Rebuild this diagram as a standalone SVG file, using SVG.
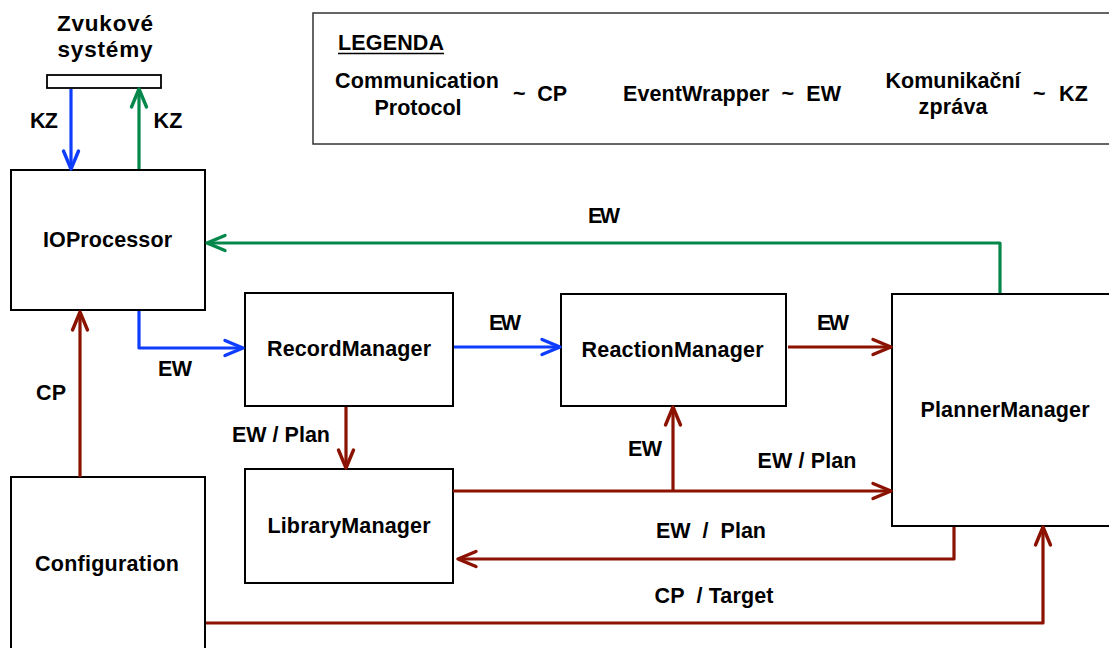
<svg xmlns="http://www.w3.org/2000/svg" width="1109" height="648" viewBox="0 0 1109 648">
<style>
text{font-family:"Liberation Sans",Arial,sans-serif;font-weight:bold;font-size:21.5px;fill:#000}
.m{text-anchor:middle}
.box{fill:#fff;stroke:#000;stroke-width:2}
.c{fill:none;stroke-width:3.2;stroke-linejoin:round}
.b{stroke:#0f3dfd}
.g{stroke:#04874b}
.r{stroke:#8b1200}
</style>
<defs>
<marker id="ab" markerUnits="userSpaceOnUse" markerWidth="24" markerHeight="20" viewBox="-20 -10 24 20" refX="0" refY="0" orient="auto" overflow="visible"><path d="M-18,-7.5 L0,0 L-18,7.5" fill="none" stroke="#0f3dfd" stroke-width="3.4" stroke-linejoin="round" stroke-linecap="round"/></marker>
<marker id="ag" markerUnits="userSpaceOnUse" markerWidth="24" markerHeight="20" viewBox="-20 -10 24 20" refX="0" refY="0" orient="auto" overflow="visible"><path d="M-18,-7.5 L0,0 L-18,7.5" fill="none" stroke="#04874b" stroke-width="3.4" stroke-linejoin="round" stroke-linecap="round"/></marker>
<marker id="ar" markerUnits="userSpaceOnUse" markerWidth="24" markerHeight="20" viewBox="-20 -10 24 20" refX="0" refY="0" orient="auto" overflow="visible"><path d="M-18,-7.5 L0,0 L-18,7.5" fill="none" stroke="#8b1200" stroke-width="3.4" stroke-linejoin="round" stroke-linecap="round"/></marker>
</defs>
<rect width="1109" height="648" fill="#fff"/>

<g id="legend">
<rect x="313" y="13" width="810" height="131" fill="#fff" stroke="#333" stroke-width="1.5"/>
<text x="338" y="50" textLength="106">LEGENDA</text>
<line x1="338" y1="53.5" x2="444" y2="53.5" stroke="#000" stroke-width="1.6"/>
<text class="m" x="417" y="88" textLength="164">Communication</text>
<text class="m" x="418" y="115" textLength="87">Protocol</text>
<text x="513" y="101" textLength="54" xml:space="preserve">~  CP</text>
<text x="623" y="101" textLength="218" xml:space="preserve">EventWrapper  ~  EW</text>
<text class="m" x="953" y="88" textLength="135">Komunikační</text>
<text class="m" x="953" y="114" textLength="69">zpráva</text>
<text x="1033" y="101" textLength="55" xml:space="preserve">~  KZ</text>
</g>

<g id="zvukove">
<rect x="47" y="75" width="114" height="13" fill="#fff" stroke="#000" stroke-width="1.8"/>
<text class="m" x="105" y="31" textLength="96" style="font-size:22.5px">Zvukové</text>
<text class="m" x="105" y="57" textLength="95" style="font-size:22.5px">systémy</text>
</g>

<g id="ioprocessor"><rect class="box" x="11" y="170" width="194" height="140"/><text class="m" x="107.5" y="247" textLength="129">IOProcessor</text></g>
<g id="recordmanager"><rect class="box" x="245" y="293" width="208" height="113"/><text class="m" x="349" y="356" textLength="164">RecordManager</text></g>
<g id="reactionmanager"><rect class="box" x="561" y="294" width="225" height="112"/><text class="m" x="672.5" y="357" textLength="182">ReactionManager</text></g>
<g id="plannermanager"><rect class="box" x="892" y="294" width="230" height="232"/><text class="m" x="1005" y="417" textLength="169">PlannerManager</text></g>
<g id="librarymanager"><rect class="box" x="245" y="469" width="208" height="114"/><text class="m" x="349" y="533" textLength="163">LibraryManager</text></g>
<g id="configuration"><rect class="box" x="11" y="477" width="194" height="180"/><text class="m" x="107" y="571" textLength="144">Configuration</text></g>

<g id="connectors">
<path class="c b" d="M71,89 V169" marker-end="url(#ab)"/>
<path class="c g" d="M139,169 V89" marker-end="url(#ag)"/>
<path class="c g" d="M1000,293 V243 H207" marker-end="url(#ag)"/>
<path class="c r" d="M80,477 V312" marker-end="url(#ar)"/>
<path class="c b" d="M139,311 V348 H243" marker-end="url(#ab)"/>
<path class="c b" d="M454,347 H560" marker-end="url(#ab)"/>
<path class="c r" d="M788,347 H891" marker-end="url(#ar)"/>
<path class="c r" d="M346,407 V468" marker-end="url(#ar)"/>
<path class="c r" d="M453,491 H891" marker-end="url(#ar)"/>
<path class="c r" d="M673,491 V407" marker-end="url(#ar)"/>
<path class="c r" d="M954,527 V559 H458" marker-end="url(#ar)"/>
<path class="c r" d="M206,623 H1043 V527" marker-end="url(#ar)"/>

<text class="m" x="44" y="128" textLength="28">KZ</text>
<text class="m" x="168" y="128" textLength="29">KZ</text>
<text class="m" x="604" y="223" textLength="32">EW</text>
<text class="m" x="51" y="400" textLength="30">CP</text>
<text class="m" x="175" y="376" textLength="34">EW</text>
<text class="m" x="505" y="330" textLength="32">EW</text>
<text class="m" x="833" y="330" textLength="32">EW</text>
<text class="m" x="281" y="442" textLength="98">EW / Plan</text>
<text class="m" x="645" y="456" textLength="34">EW</text>
<text class="m" x="807" y="468" textLength="99">EW / Plan</text>
<text class="m" x="711" y="538" textLength="110" xml:space="preserve">EW  /  Plan</text>
<text class="m" x="714" y="603" textLength="119" xml:space="preserve">CP  / Target</text>
</g>
</svg>
